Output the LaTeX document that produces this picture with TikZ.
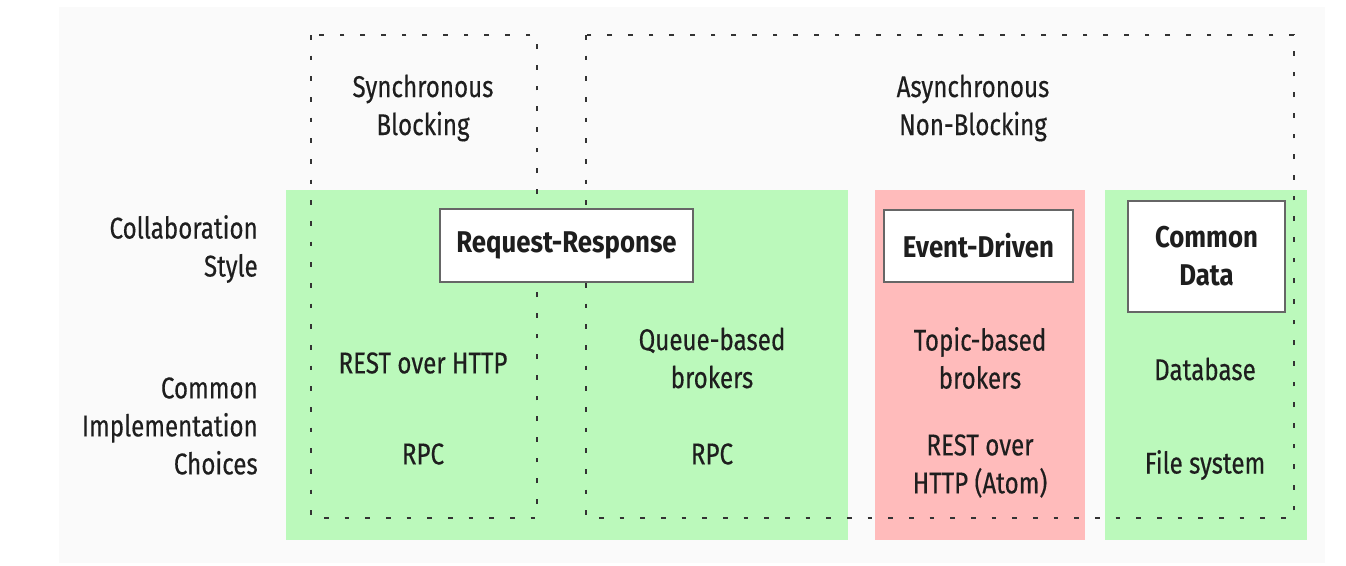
\documentclass[tikz,border=0pt]{standalone}
\usepackage{fontspec}
\setmainfont{Fira Sans}[UprightFeatures={FakeStretch=0.805, FakeBold=0.35}, BoldFeatures={FakeStretch=0.86}]
\begin{document}
\begin{tikzpicture}[x=0.75pt,y=-0.75pt,
  every node/.style={font=\fontsize{22.5}{28.5}\selectfont, text=txt, inner sep=0pt, align=center},
  frame/.style={draw=dotc, line width=1.5pt, dash pattern=on 3.5pt off 12pt},
  title/.style={draw=boxc, line width=1pt, fill=white, font=\fontsize{22.5}{28.5}\selectfont\bfseries},
  rlabel/.style={align=right, anchor=east}]
\definecolor{bgc}{HTML}{FAFAFA}
\definecolor{grn}{HTML}{BBF9BB}
\definecolor{pnk}{HTML}{FFBBBB}
\definecolor{dotc}{HTML}{333333}
\definecolor{boxc}{HTML}{666666}
\definecolor{txt}{HTML}{1E1E1E}
\useasboundingbox (0,0) rectangle (1346,565);
\fill[bgc] (59,7) rectangle (1325,563);
% columns
\fill[grn] (286,190) rectangle (848,540);
\fill[pnk] (875,190) rectangle (1085,540);
\fill[grn] (1105,190) rectangle (1307,540);
% dotted frames
\draw[frame] (311,35) rectangle (537,518);
\draw[frame] (586,35) rectangle (1294,518);
% title boxes
\node[title, minimum width=189.75pt, minimum height=54.75pt] (rr) at (566.5,245.5) {Request-Response};
\node[title, minimum width=141.75pt, minimum height=54pt] (ed) at (978.5,246) {Event-Driven};
\node[title, minimum width=117.75pt, minimum height=83.25pt] (cd) at (1206.5,256.5) {Common\\Data};
% headers
\node (sync) at (423,108) {Synchronous\\Blocking};
\node (async) at (973,108) {Asynchronous\\Non-Blocking};
% row labels
\node[rlabel] (collab) at (258,249) {Collaboration\\Style};
\node[rlabel] (impl) at (258,426) {Common\\Implementation\\Choices};
% contents
\node (rest) at (423,363) {REST over HTTP};
\node (rpc1) at (423,454) {RPC};
\node (queue) at (712,358) {Queue-based\\brokers};
\node (rpc2) at (712,454) {RPC};
\node (topic) at (980,358) {Topic-based\\brokers};
\node (atom) at (980,466) {REST over\\HTTP (Atom)};
\node (db) at (1205,369) {Database};
\node (fs) at (1205,465) {File system};
\end{tikzpicture}
\end{document}
